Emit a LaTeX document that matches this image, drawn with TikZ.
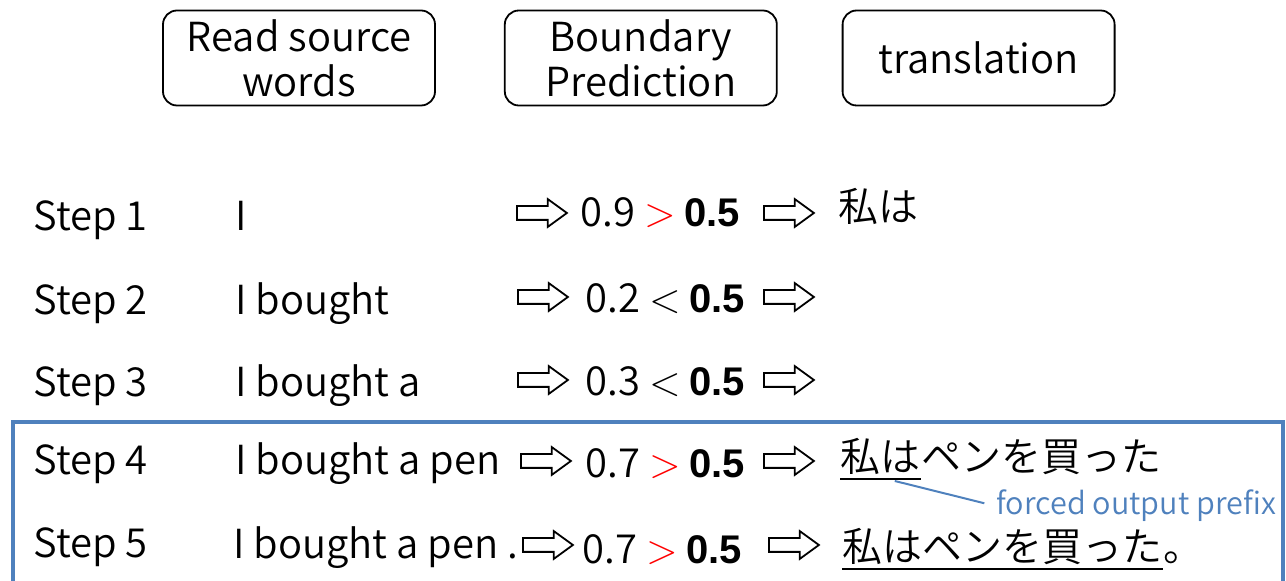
\documentclass[tikz,border=0pt]{standalone}
\usepackage{fontspec}
\setmainfont{Noto Sans CJK JP DemiLight}
\newfontfamily\arialfont{Liberation Sans}
\usetikzlibrary{shapes.arrows,positioning}
\definecolor{boxblue}{RGB}{79,129,189}
\newcommand{\thr}{{\arialfont\bfseries 0.5}}
\newcommand{\gtr}{{\color{red}\fontsize{22}{22}\selectfont$>$}}

\begin{document}
\begin{tikzpicture}[
  x=0.5pt, y=-0.5pt,
  font=\fontsize{20}{22.5}\selectfont,
  head/.style={draw, rounded corners=7pt, line width=0.9pt, minimum width=136pt, minimum height=47.5pt, align=center, inner sep=0pt},
  txt/.style={anchor=base west, inner sep=0pt},
  blockarrow/.style={single arrow, draw, line width=0.9pt, single arrow head extend=3.5pt, single arrow tip angle=72, minimum height=25pt, inner xsep=0pt, inner ysep=3pt, anchor=west},
  uline/.style={line width=1.3pt},
  note/.style={boxblue, line width=1pt}
]
\useasboundingbox (0,0) rectangle (1286,581);

% column heads
\node[head] (read) at (299,58) {Read source\\words};
\node[head, right=34pt of read] (bound) {Boundary\\Prediction};
\node[head, right=32pt of bound] (trans) {translation};

% steps
\node[txt] (s1) at (33,231) {Step 1};
\node[txt] (s2) at (33,315) {Step 2};
\node[txt] (s3) at (33,397) {Step 3};
\node[txt] (s4) at (33,475) {Step 4};
\node[txt] (s5) at (33,558) {Step 5};

\node[txt] (w1) at (235,231) {I};
\node[txt] (w2) at (235,315) {I bought};
\node[txt] (w3) at (235,397) {I bought a};
\node[txt] (w4) at (235,475) {I bought a pen};
\node[txt] (w5) at (233,559) {I bought a pen .};

\node[blockarrow] (a1) at (516,213) {};
\node[blockarrow] (a2) at (517,297) {};
\node[blockarrow] (a3) at (517,380) {};
\node[blockarrow] (a4) at (520,461) {};
\node[blockarrow] (a5) at (522,545) {};

\node[txt] (v1) at (580,227) {0.9 \gtr{} \thr};
\node[txt] (v2) at (585,313) {0.2 $<$ \thr};
\node[txt] (v3) at (585,396) {0.3 $<$ \thr};
\node[txt] (v4) at (585,478) {0.7 \gtr{} \thr};
\node[txt] (v5) at (582,564) {0.7 \gtr{} \thr};

\node[blockarrow] (b1) at (763,213) {};
\node[blockarrow] (b2) at (763,297) {};
\node[blockarrow] (b3) at (763,380) {};
\node[blockarrow] (b4) at (763,461) {};
\node[blockarrow] (b5) at (768,545) {};

% output
\node[txt] (t1) at (838,222) {私は};
\node[txt] (t4a) at (840,472) {私は};
\node[txt] (t4b) at (t4a.base east) {ペンを買った};
\node[txt] (t5a) at (842,562) {私はペンを買った};
\node[txt] (t5b) at (t5a.base east) {。};

\draw[uline] ([yshift=-3.5pt]t4a.base west) -- ([yshift=-3.5pt]t4a.base east);
\draw[uline] ([yshift=-3.5pt]t5a.base west) -- ([yshift=-3.5pt]t5a.base east);

\node[txt, font=\fontsize{15.3}{18}\selectfont, text=boxblue] (fop) at (996,515) {forced output prefix};
\draw[note, shorten >=6pt] ([xshift=-13pt,yshift=-4.5pt]t4a.base east) -- (fop.west);

% forced steps
\draw[boxblue, line width=1.7pt] (13,581) -- (13,422) -- (1283,422) -- (1283,581);
\end{tikzpicture}
\end{document}
